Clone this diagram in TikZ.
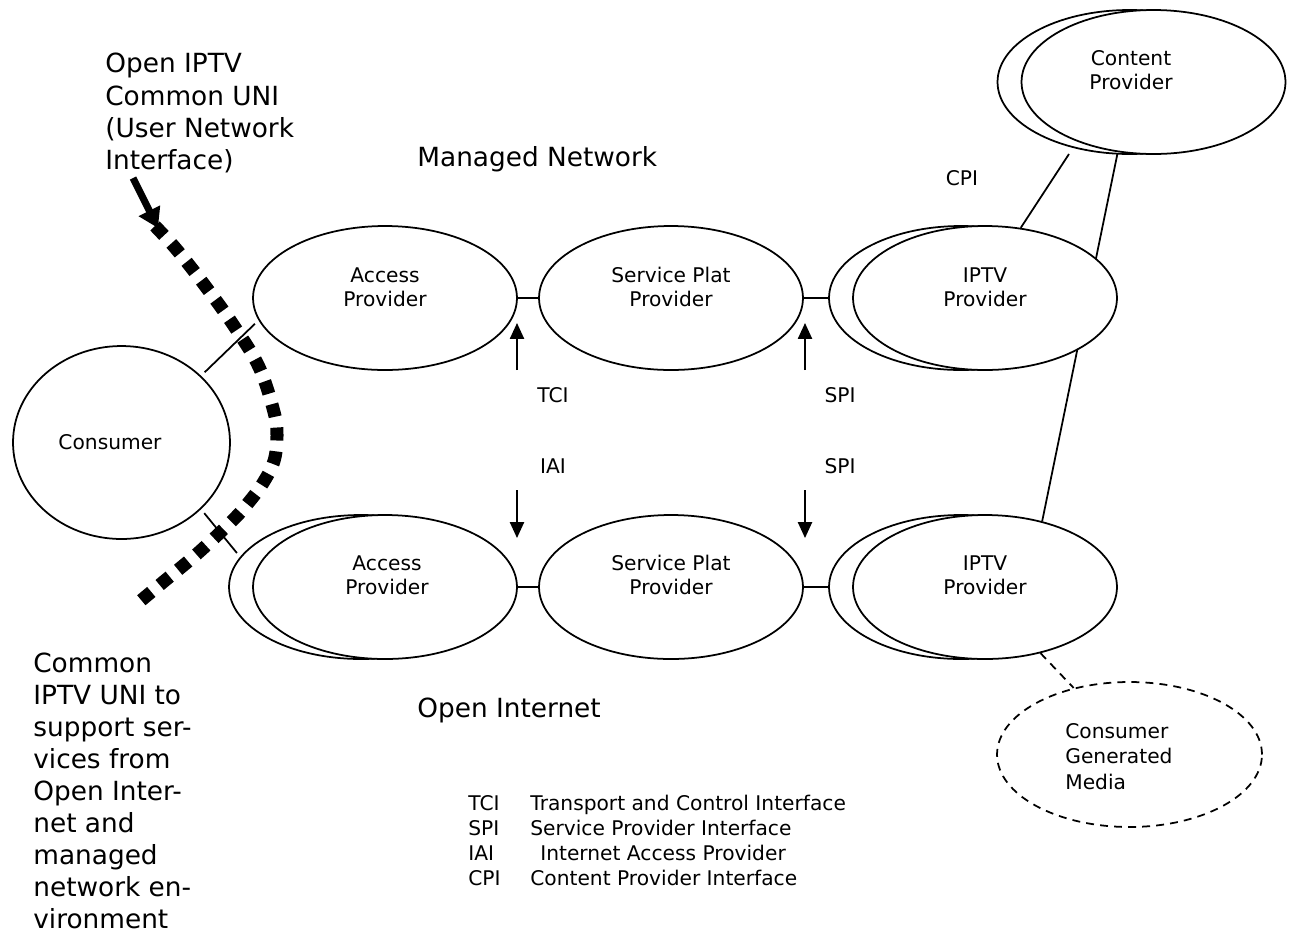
\documentclass[tikz,border=0pt]{standalone}
\usepackage{fontspec}
\setmainfont{DejaVu Sans}
\usetikzlibrary{shapes.geometric,arrows.meta,backgrounds}
\begin{document}
\begin{tikzpicture}[x=0.02cm,y=-0.02cm,
  prov/.style={ellipse,draw,line width=1pt,fill=white,minimum width=5.28cm,minimum height=2.88cm,inner sep=0pt},
  small/.style={font=\fontsize{11.5}{13.8}\selectfont,align=center,inner sep=0pt},
  big/.style={font=\fontsize{15}{18.4}\selectfont,align=left,inner sep=0pt},
  conn/.style={line width=1pt},
  iface/.style={line width=1pt,-{Triangle[length=9pt,width=8pt]}},
  uni/.style={line width=7.4pt,dash pattern=on 7.4pt off 6.2pt},
]
\useasboundingbox (0,0) rectangle (1295,934);

% ellipses
\node[prov] (apt) at (385,298) {};
\node[prov] (spt) at (671,298) {};
\node[prov] (iptb) at (961,298) {};
\node[prov] (iptf) at (985,298) {};
\node[prov] (cpb) at (1129.5,82) {};
\node[prov] (cpf) at (1153.5,82) {};
\node[prov] (apbb) at (361,587) {};
\node[prov] (apbf) at (385,587) {};
\node[prov] (spb) at (671,587) {};
\node[prov] (ipbb) at (961,587) {};
\node[prov] (ipbf) at (985,587) {};
\node[prov,minimum width=4.34cm,minimum height=3.86cm] (cons) at (121.5,442.5) {};
\node[prov,dashed,dash pattern=on 4.5pt off 3.5pt,minimum width=5.3cm,minimum height=2.9cm] (cgm) at (1129.5,754.5) {};

% texts in ellipses
\node[small] (tapt) at (385,287) {Access\\Provider};
\node[small] (tspt) at (671,287) {Service Plat\\Provider};
\node[small] (tipt) at (985,287) {IPTV\\Provider};
\node[small] (tcp) at (1131,70.5) {Content\\Provider};
\node[small] (tapb) at (387,575) {Access\\Provider};
\node[small] (tspb) at (671,575) {Service Plat\\Provider};
\node[small] (tipb) at (985,575) {IPTV\\Provider};
\node[small] (tcons) at (110,442) {Consumer};
\node[small,align=left,font=\fontsize{11.5}{14.5}\selectfont,anchor=north west] (tcgm) at (1065,723) {Consumer\\Generated\\Media};

% interface labels
\node[small] (ltci) at (553,395) {TCI};
\node[small] (liai) at (553,466) {IAI};
\node[small] (lspi1) at (840,395) {SPI};
\node[small] (lspi2) at (840,466) {SPI};
\node[small] (lcpi) at (962,178) {CPI};

% big texts
\node[big,anchor=north west] (tuni) at (105,53) {Open IPTV\\Common UNI\\(User Network\\Interface)};
\node[big,anchor=north west,font=\fontsize{15}{18.2}\selectfont] (tcommon) at (33,653) {Common\\IPTV UNI to\\support ser-\\vices from\\Open Inter-\\net and\\managed\\network en-\\vironment};
\node[big,anchor=base west] (tmn) at (417,166) {Managed Network};
\node[big,anchor=base west] (toi) at (417,717) {Open Internet};

% legend
\node[small,anchor=base west] (k1) at (468,810) {TCI};
\node[small,anchor=base west] (v1) at (530,810) {Transport and Control Interface};
\node[small,anchor=base west] (k2) at (468,835) {SPI};
\node[small,anchor=base west] (v2) at (530,835) {Service Provider Interface};
\node[small,anchor=base west] (k3) at (468,860) {IAI};
\node[small,anchor=base west] (v3) at (540,860) {Internet Access Provider};
\node[small,anchor=base west] (k4) at (468,885) {CPI};
\node[small,anchor=base west] (v4) at (530,885) {Content Provider Interface};

% free ends
\coordinate (tciA) at (517,370);
\coordinate (tciB) at (517,323);
\coordinate (iaiA) at (517,490);
\coordinate (iaiB) at (517,538);
\coordinate (spiA) at (805,370);
\coordinate (spiB) at (805,323);
\coordinate (spi2A) at (805,490);
\coordinate (spi2B) at (805,538);
\coordinate (cpiend) at (1069,154);
\coordinate (uniA) at (133,178);
\coordinate (uniB) at (158,228);

\begin{scope}[on background layer]
  \draw[conn] (apt.east) -- (spt.west);
  \draw[conn] (spt.east) -- (iptb.west);
  \draw[conn] (apbf.east) -- (spb.west);
  \draw[conn] (spb.east) -- (ipbb.west);
  \draw[conn] (iptf.63) -- (cpiend);
  \draw[conn] (cpf.-117) -- (ipbf.49);
  \draw[conn,dashed,dash pattern=on 4.5pt off 3.5pt] (ipbf.-50) -- (cgm.130);
  \draw[conn,shorten <=0.1cm,shorten >=0.1cm] (cons.40.6) -- (apt.190);
  \draw[conn,shorten <=0.1cm,shorten >=0.1cm] (cons.-40.6) -- (apbb.166);
\end{scope}

\draw[iface] (tciA) -- (tciB);
\draw[iface] (iaiA) -- (iaiB);
\draw[iface] (spiA) -- (spiB);
\draw[iface] (spi2A) -- (spi2B);

% UNI boundary
\draw[uni] plot[smooth,tension=0.6] coordinates {(155,226) (177,250) (206,287) (234,326) (259,367) (274,412) (277,436) (274,461) (263,483) (249,502) (233,520) (198,553) (162,583) (138,603)};
\draw[line width=4pt,-{Triangle[length=11pt,width=13pt]}] (uniA) -- (uniB);
\end{tikzpicture}
\end{document}
